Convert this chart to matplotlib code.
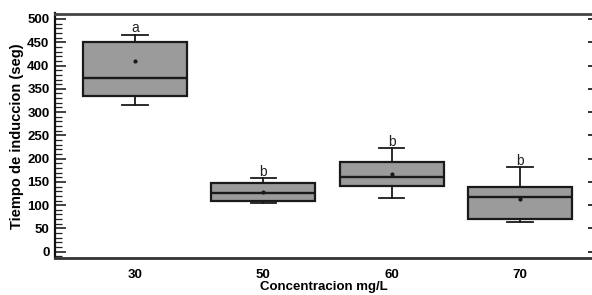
import matplotlib
matplotlib.use("Agg")
import matplotlib.pyplot as plt
from matplotlib.ticker import MultipleLocator

categories = ["30", "50", "60", "70"]
whislo = [316, 105, 115, 63]
q1 = [335, 108, 142, 70]
med = [373, 126, 161, 117]
q3 = [451, 147, 193, 138]
whishi = [466, 158, 222, 181]
means = [410, 129, 168, 113]
letters = ["a", "b", "b", "b"]

plt.rcParams['font.family'] = ['Liberation Sans', 'DejaVu Sans']

fig = plt.figure(figsize=(5.92, 2.95), dpi=100)
ax = fig.add_axes([55/592, 1-258/295, 1-55/592, (258-13.5)/295])

stats = []
for i in range(len(categories)):
    stats.append(dict(label=categories[i], whislo=whislo[i], q1=q1[i], med=med[i],
                      q3=q3[i], whishi=whishi[i], mean=means[i], fliers=[]))

pos = list(range(1, len(categories)+1))
ax.bxp(stats, positions=pos, widths=0.81, capwidths=0.2, showmeans=True,
       patch_artist=True, showfliers=False,
       boxprops=dict(facecolor="#9b9b9b", edgecolor="#1a1a1a", linewidth=1.6),
       medianprops=dict(color="#1a1a1a", linewidth=1.7),
       whiskerprops=dict(color="#1a1a1a", linewidth=1.3),
       capprops=dict(color="#1a1a1a", linewidth=1.3),
       meanprops=dict(marker='o', markersize=2, markerfacecolor="#1a1a1a",
                      markeredgecolor="#1a1a1a"))

for p, hi, lt in zip(pos, whishi, letters):
    ax.text(p, hi + 14, lt, ha='center', va='center', fontsize=10, color="#222222")

xlim = (1 - 80/128, 4 + 72/128)
ylim = (-13.5, 511.8)
ax.set_xlim(*xlim)
ax.set_ylim(*ylim)
ax.yaxis.set_major_locator(MultipleLocator(50))
ax.yaxis.set_minor_locator(MultipleLocator(10))
ax.tick_params(axis='y', which='major', direction='in', length=8, width=1.2,
               labelsize=9.5, pad=4, color="#222222")
ax.tick_params(axis='y', which='minor', direction='in', length=5, width=0.9,
               color="#222222")
ax.tick_params(axis='x', length=0, labelsize=9.5, pad=8)
for lab in ax.get_yticklabels() + ax.get_xticklabels():
    lab.set_fontweight('bold')

ax.spines['right'].set_visible(False)
ax.spines['left'].set_linewidth(1.6)
ax.spines['left'].set_color("#111111")
ax.spines['top'].set_linewidth(2.0)
ax.spines['top'].set_color("#444444")
ax.spines['bottom'].set_linewidth(2.0)
ax.spines['bottom'].set_color("#333333")

# right-side short ticks only
ax2 = ax.twinx()
ax2.set_ylim(*ylim)
ax2.yaxis.set_major_locator(MultipleLocator(50))
ax2.tick_params(axis='y', which='major', direction='in', length=3, width=1.3,
                labelright=False, color="#222222")
for s in ax2.spines.values():
    s.set_visible(False)

ax.set_xlabel("Concentracion mg/L", fontsize=9.5, fontweight='bold', labelpad=0)
ax.set_ylabel("Tiempo de induccion (seg)", fontsize=10.5, fontweight='bold', labelpad=2)

fig.savefig("out.png", dpi=100)
